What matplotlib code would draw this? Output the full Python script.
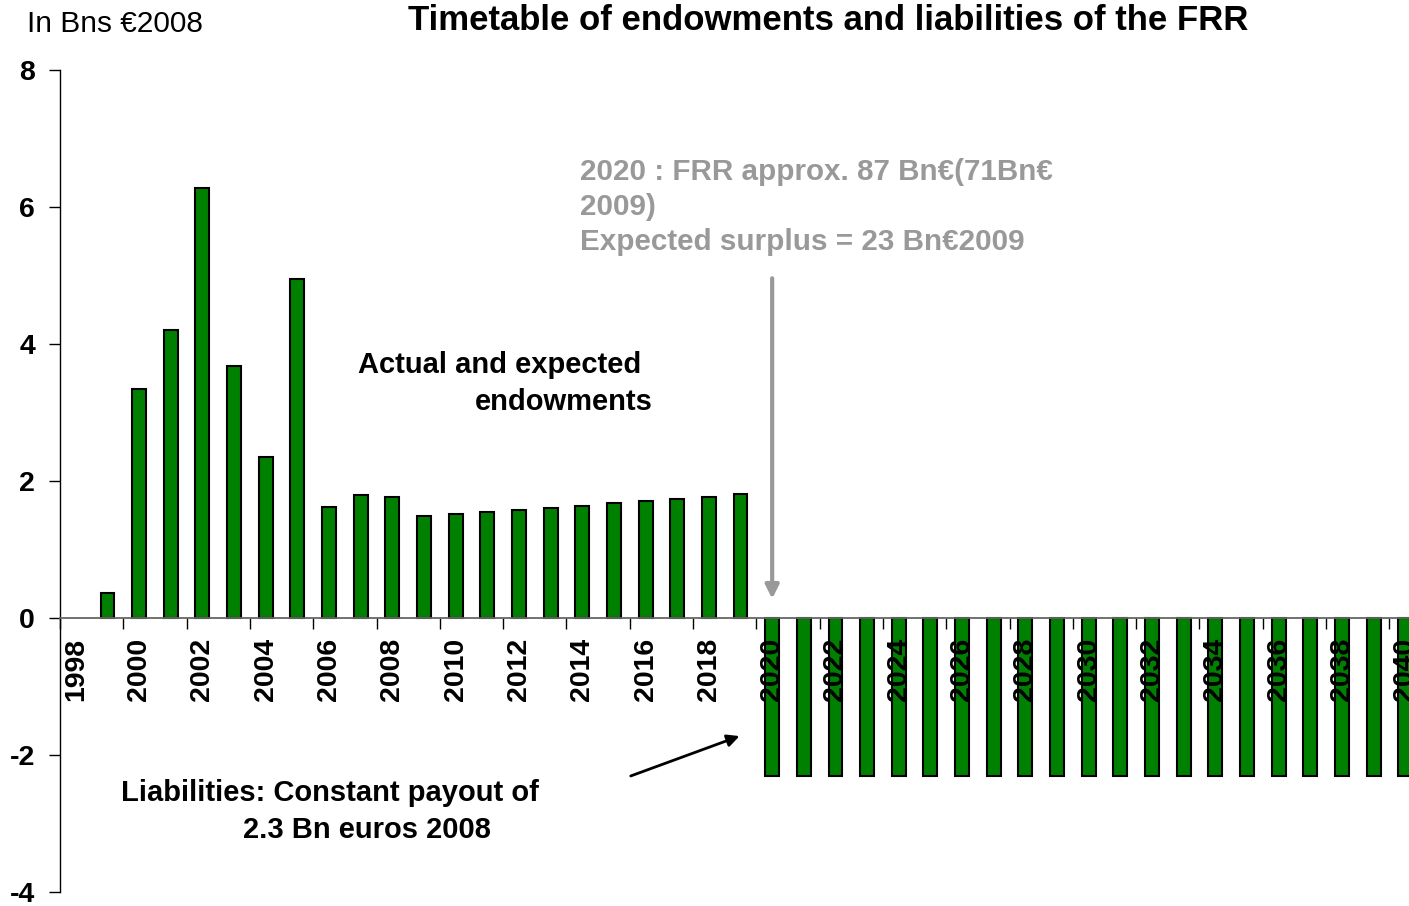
import numpy as np
import matplotlib.pyplot as plt

plt.rcParams['font.family'] = ['Liberation Sans', 'DejaVu Sans']

# endowments (Bn EUR 2008), 1999-2019
ans_dot = list(range(1999, 2020))
dotations = [0.36, 3.34, 4.20, 6.28, 3.68, 2.35, 4.95, 1.62, 1.80, 1.77, 1.49,
             1.52, 1.55, 1.58, 1.61, 1.64, 1.68, 1.71, 1.74, 1.77, 1.81]
# liabilities, 2020-2040
ans_passif = list(range(2020, 2041))
passif = [-2.3] * len(ans_passif)
annees_lab = list(range(1998, 2041, 2))

fig = plt.figure(figsize=(14.09, 9.06), dpi=100)
ax = fig.add_axes([60/1409, 1-892/906, 1-60/1409, 822/906])

ax.bar(ans_dot, dotations, width=0.44, color="#008000", edgecolor="black", linewidth=1.5)
ax.bar(ans_passif, passif, width=0.44, color="#008000", edgecolor="black", linewidth=1.5)

ax.set_xlim(1997.5, 2040.12)
ax.set_ylim(-4, 8)
ax.set_yticks([-4, -2, 0, 2, 4, 6, 8])
ax.set_yticklabels(["-4", "-2", "0", "2", "4", "6", "8"], fontsize=20.5, fontweight="bold")
ax.tick_params(axis="y", direction="out", length=8, width=1, pad=10)

ax.spines["top"].set_visible(False)
ax.spines["right"].set_visible(False)
ax.spines["bottom"].set_position(("data", 0))
ax.spines["bottom"].set_color("#666666")
ax.spines["bottom"].set_linewidth(1.3)
ax.spines["left"].set_linewidth(1)

# tick marks between categories, labels on even years
ax.set_xticks(np.arange(1997.5, 2041, 2))
ax.set_xticklabels([])
ax.tick_params(axis="x", which="major", direction="out", length=8, width=1)
ax.set_xticks(annees_lab, minor=True)
ax.set_xticklabels([str(a) for a in annees_lab], minor=True, rotation=90,
                   fontsize=20.5, fontweight="bold")
ax.tick_params(axis="x", which="minor", length=0, pad=14)

fig.text(27/1409, 1-24/906, "In Bns €2008", fontsize=21.5, va="center", ha="left")
fig.text(828/1409, 1-21/906, "Timetable of endowments and liabilities of the FRR",
         fontsize=25, fontweight="bold", va="center", ha="center")

ax.text(2013.93, 6.72, "2020 : FRR approx. 87 Bn€(71Bn€\n2009)\nExpected surplus = 23 Bn€2009",
        color="#999999", fontsize=21.3, fontweight="bold", va="top", ha="left",
        linespacing=1.32)
ax.annotate("", xy=(2020, 0.24), xytext=(2020, 5.0),
            arrowprops=dict(arrowstyle="-|>", color="#999999", lw=3, mutation_scale=20))

ax.text(2006.9, 3.69, "Actual and expected", fontsize=21, fontweight="bold", va="center", ha="left")
ax.text(2016.24, 3.15, "endowments", fontsize=21, fontweight="bold", va="center", ha="right")

ax.text(1999.43, -2.55, "Liabilities: Constant payout of", fontsize=21, fontweight="bold",
        va="center", ha="left")
ax.text(2003.28, -3.09, "2.3 Bn euros 2008", fontsize=21, fontweight="bold",
        va="center", ha="left")
ax.annotate("", xy=(2019.05, -1.71), xytext=(2015.45, -2.32),
            arrowprops=dict(arrowstyle="-|>", color="black", lw=2, mutation_scale=18))

fig.savefig("out.png", dpi=100)
